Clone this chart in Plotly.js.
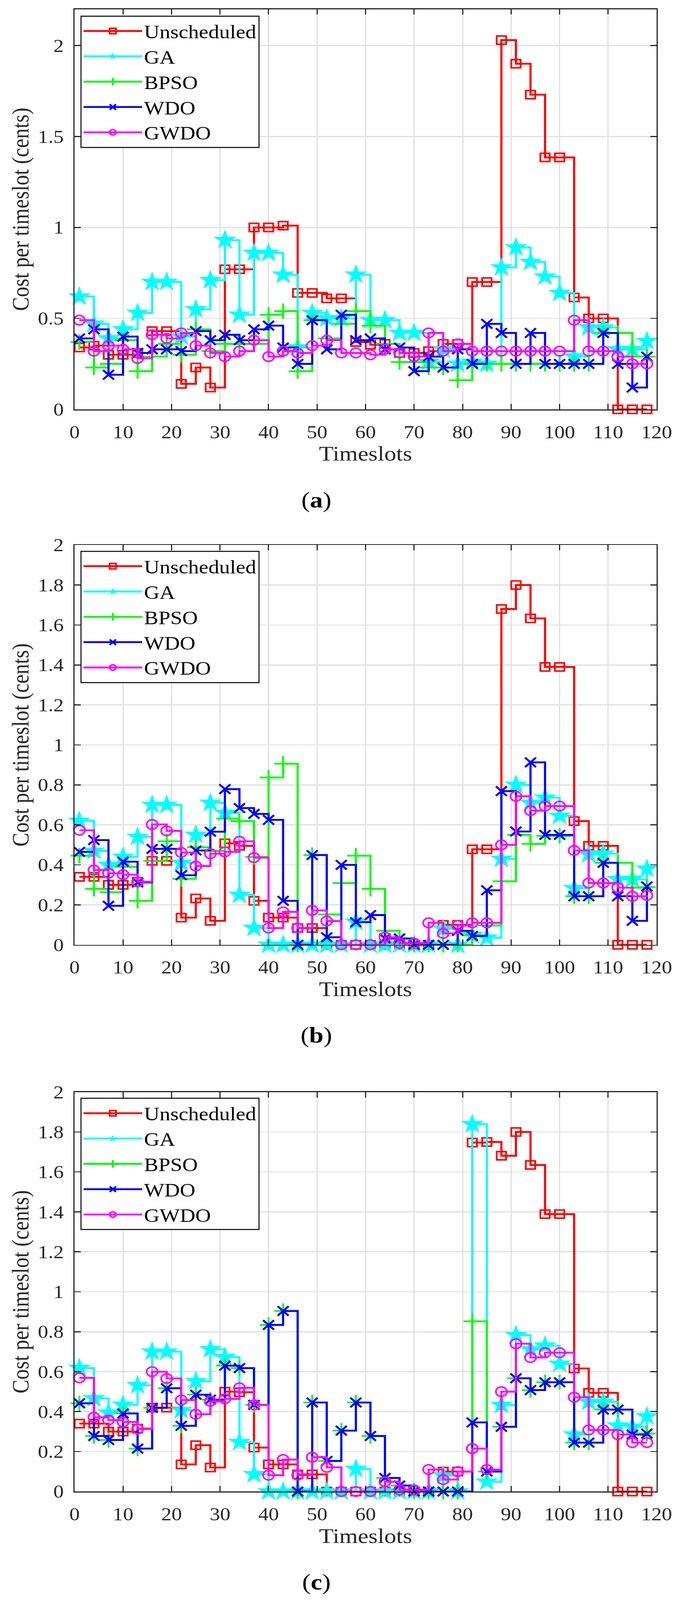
<!DOCTYPE html>
<html>
<head>
<meta charset="utf-8">
<script src="https://cdn.plot.ly/plotly-3.0.1.min.js"></script>
<style>
  html, body { margin: 0; padding: 0; background: #ffffff; overflow: hidden; }
  #frame { width: 1742px; height: 4096px; overflow: hidden; }
  #cost_plot { width: 1742px; height: 4706px; transform-origin: 0 0; }
</style>
</head>
<body>
<div id="frame"><div id="cost_plot"></div></div>
<script>
// timeslot at which each 3-slot step starts
var timeslots = [1, 4, 7, 10, 13, 16, 19, 22, 25, 28, 31, 34, 37, 40, 43, 46, 49, 52, 55, 58,
                 61, 64, 67, 70, 73, 76, 79, 82, 85, 88, 91, 94, 97, 100, 103, 106, 109, 112, 115, 118];

var names = ['Unscheduled', 'GA', 'BPSO', 'WDO', 'GWDO'];
var xTicks = [0, 10, 20, 30, 40, 50, 60, 70, 80, 90, 100, 110, 120];

// (a)
var a_unsched = [0.34, 0.35, 0.30, 0.30, 0.31, 0.43, 0.43, 0.14, 0.23, 0.12, 0.77, 0.77, 1.00, 1.00, 1.01, 0.64, 0.64, 0.61, 0.61, 0.37,
                 0.355, 0.36, 0.31, 0.31, 0.32, 0.36, 0.36, 0.70, 0.70, 2.03, 1.90, 1.73, 1.385, 1.385, 0.615, 0.50, 0.50, 0, 0, 0];
var a_ga      = [0.62, 0.47, 0.39, 0.44, 0.53, 0.70, 0.70, 0.40, 0.55, 0.71, 0.93, 0.52, 0.86, 0.86, 0.74, 0.34, 0.53, 0.50, 0.50, 0.74,
                 0.49, 0.49, 0.42, 0.42, 0.26, 0.33, 0.25, 0.26, 0.25, 0.78, 0.89, 0.81, 0.73, 0.64, 0.29, 0.45, 0.45, 0.33, 0.33, 0.375];
var a_bpso    = [0.37, 0.23, 0.25, 0.38, 0.21, 0.29, 0.36, 0.30, 0.44, 0.32, 0.36, 0.36, 0.36, 0.52, 0.54, 0.21, 0.49, 0.39, 0.47, 0.54,
                 0.46, 0.36, 0.26, 0.26, 0.23, 0.23, 0.16, 0.25, 0.25, 0.25, 0.25, 0.25, 0.25, 0.25, 0.25, 0.25, 0.42, 0.42, 0.29, 0.29];
var a_wdo     = [0.39, 0.44, 0.19, 0.40, 0.31, 0.33, 0.33, 0.32, 0.43, 0.38, 0.41, 0.38, 0.44, 0.46, 0.34, 0.25, 0.49, 0.33, 0.52, 0.38,
                 0.39, 0.33, 0.34, 0.21, 0.29, 0.23, 0.33, 0.25, 0.47, 0.42, 0.25, 0.42, 0.25, 0.25, 0.25, 0.25, 0.42, 0.25, 0.12, 0.29];
var a_gwdo    = [0.49, 0.32, 0.35, 0.33, 0.28, 0.41, 0.39, 0.42, 0.35, 0.31, 0.29, 0.32, 0.38, 0.29, 0.32, 0.31, 0.35, 0.38, 0.31, 0.31,
                 0.30, 0.33, 0.31, 0.29, 0.42, 0.32, 0.36, 0.32, 0.32, 0.32, 0.32, 0.32, 0.32, 0.32, 0.49, 0.32, 0.32, 0.29, 0.25, 0.25];

// (b)
var b_unsched = [0.34, 0.34, 0.30, 0.30, 0.315, 0.42, 0.42, 0.136, 0.232, 0.12, 0.508, 0.495, 0.22, 0.136, 0.136, 0.084, 0.084, 0, 0, 0,
                 0, 0, 0, 0, 0, 0.10, 0.10, 0.478, 0.478, 1.68, 1.80, 1.633, 1.39, 1.39, 0.619, 0.495, 0.495, 0, 0, 0];
var b_ga      = [0.62, 0.47, 0.40, 0.44, 0.54, 0.70, 0.70, 0.41, 0.55, 0.71, 0.66, 0.25, 0.084, 0, 0, 0, 0, 0, 0, 0.115,
                 0, 0, 0, 0, 0, 0.08, 0, 0.048, 0.035, 0.43, 0.80, 0.71, 0.736, 0.645, 0.283, 0.452, 0.456, 0.328, 0.328, 0.38];
var b_bpso    = [0.446, 0.28, 0.263, 0.39, 0.22, 0.42, 0.518, 0.33, 0.488, 0.47, 0.632, 0.619, 0.44, 0.837, 0.906, 0, 0.449, 0.152, 0.309, 0.446,
                 0.28, 0.07, 0.03, 0, 0, 0, 0, 0.048, 0.097, 0.318, 0.55, 0.505, 0.545, 0.545, 0.243, 0.243, 0.41, 0.41, 0.286, 0.289];
var b_wdo     = [0.465, 0.524, 0.195, 0.416, 0.312, 0.48, 0.48, 0.348, 0.472, 0.566, 0.779, 0.684, 0.655, 0.625, 0.22, 0, 0.449, 0.038, 0.40, 0.113,
                 0.149, 0.032, 0.032, 0, 0, 0, 0.07, 0.044, 0.273, 0.769, 0.567, 0.913, 0.55, 0.55, 0.243, 0.243, 0.41, 0.243, 0.12, 0.292];
var b_gwdo    = [0.573, 0.374, 0.358, 0.351, 0.315, 0.602, 0.57, 0.462, 0.394, 0.456, 0.465, 0.518, 0.436, 0.084, 0.165, 0.084, 0.172, 0.119, 0, 0,
                 0, 0.038, 0.008, 0.008, 0.11, 0.057, 0.097, 0.11, 0.11, 0.50, 0.743, 0.671, 0.694, 0.694, 0.472, 0.309, 0.309, 0.286, 0.243, 0.247];

// (c)
var c_unsched = [0.34, 0.34, 0.30, 0.30, 0.315, 0.42, 0.42, 0.136, 0.232, 0.12, 0.50, 0.497, 0.22, 0.136, 0.136, 0.086, 0.086, 0, 0, 0,
                 0, 0, 0, 0, 0, 0.10, 0.10, 1.747, 1.75, 1.681, 1.80, 1.635, 1.389, 1.389, 0.616, 0.494, 0.494, 0, 0, 0];
var c_ga      = [0.618, 0.466, 0.395, 0.434, 0.532, 0.70, 0.70, 0.407, 0.552, 0.712, 0.673, 0.247, 0.086, 0, 0, 0, 0, 0, 0, 0.113,
                 0, 0, 0, 0, 0, 0.08, 0, 1.839, 0.049, 0.433, 0.783, 0.711, 0.73, 0.639, 0.285, 0.449, 0.449, 0.33, 0.324, 0.376];
var c_bpso    = [0.442, 0.278, 0.258, 0.391, 0.215, 0.419, 0.517, 0.329, 0.485, 0.46, 0.63, 0.618, 0.434, 0.834, 0.904, 0, 0.446, 0.153, 0.305, 0.446,
                 0.278, 0.068, 0.03, 0, 0, 0, 0, 0.852, 0.10, 0.324, 0.567, 0.508, 0.547, 0.547, 0.245, 0.245, 0.41, 0.41, 0.285, 0.29];
var c_wdo     = [0.442, 0.278, 0.258, 0.391, 0.215, 0.419, 0.517, 0.329, 0.485, 0.46, 0.63, 0.618, 0.434, 0.834, 0.904, 0, 0.446, 0.153, 0.305, 0.446,
                 0.278, 0.068, 0.03, 0, 0, 0, 0, 0.346, 0.10, 0.324, 0.567, 0.508, 0.547, 0.547, 0.245, 0.245, 0.41, 0.41, 0.285, 0.29];
var c_gwdo    = [0.569, 0.372, 0.358, 0.348, 0.313, 0.60, 0.566, 0.458, 0.387, 0.452, 0.464, 0.519, 0.434, 0.082, 0.16, 0.082, 0.172, 0.121, 0, 0,
                 0, 0.049, 0.008, 0.008, 0.11, 0.06, 0.10, 0.215, 0.11, 0.50, 0.74, 0.671, 0.695, 0.695, 0.472, 0.308, 0.308, 0.285, 0.245, 0.245];

var panels = [
	[a_unsched, a_ga, a_bpso, a_wdo, a_gwdo],
	[b_unsched, b_ga, b_bpso, b_wdo, b_gwdo],
	[c_unsched, c_ga, c_bpso, c_wdo, c_gwdo]
];

var colors  = ['#ff0000', '#00ffff', '#00ff00', '#0000ff', '#ff00ff'];
var symbols = ['square-open', 'star', 'cross-thin-open', 'x-thin-open', 'circle-open'];
var msizes  = [24, 44, 32, 28, 28];
var mlines  = [4.5, 0, 5, 5.5, 4.5];

var serif = 'Liberation Serif, Times New Roman, serif';

var data = [];
for (var p = 0; p < panels.length; p++) {
	var suffix = p == 0 ? '' : String(p + 1);
	for (var s = 0; s < names.length; s++) {
		data.push({
			x: timeslots,
			y: panels[p][s],
			type: 'scatter',
			mode: 'lines+markers',
			name: names[s],
			xaxis: 'x' + suffix,
			yaxis: 'y' + suffix,
			legend: 'legend' + suffix,
			cliponaxis: false,
			line: {shape: 'hv', color: colors[s], width: 5.5},
			marker: {
				symbol: symbols[s],
				size: msizes[s],
				color: colors[s],
				line: {color: colors[s], width: mlines[s]}
			}
		});
	}
}

function xAxis(anchor) {
	return {
		anchor: anchor,
		domain: [0.1096, 0.9656],
		range: [0, 120],
		tickvals: xTicks,
		ticks: 'inside',
		ticklen: 16,
		tickwidth: 3,
		tickcolor: '#262626',
		showline: true,
		linecolor: '#262626',
		linewidth: 3,
		mirror: 'ticks',
		showgrid: true,
		gridcolor: '#dfdfdf',
		gridwidth: 3,
		zeroline: false,
		ticklabelstandoff: 18,
		tickfont: {family: serif, size: 53, color: '#262626'},
		title: {text: 'Timeslots', font: {family: serif, size: 61, color: '#262626'}, standoff: 14}
	};
}

function yAxis(anchor, domain, top, step) {
	return {
		anchor: anchor,
		domain: domain,
		range: [0, top],
		dtick: step,
		tick0: 0,
		ticks: 'inside',
		ticklen: 16,
		tickwidth: 3,
		tickcolor: '#262626',
		showline: true,
		linecolor: '#262626',
		linewidth: 3,
		mirror: 'ticks',
		showgrid: true,
		gridcolor: '#dfdfdf',
		gridwidth: 3,
		zeroline: false,
		ticklabelstandoff: 14,
		tickfont: {family: serif, size: 53, color: '#262626'},
		title: {text: 'Cost per timeslot (cents)', font: {family: serif, size: 61, color: '#262626'}, standoff: 4}
	};
}

function legendBox(y) {
	return {
		x: 0.1183,
		y: y,
		xanchor: 'left',
		yanchor: 'top',
		bgcolor: '#ffffff',
		bordercolor: '#262626',
		borderwidth: 3,
		itemwidth: 150,
		tracegroupgap: 0,
		font: {family: serif, size: 55, color: '#000000'}
	};
}

var captions = ['(<b>a</b>)', '(<b>b</b>)', '(<b>c</b>)'];
var captionY = [1 - 1470 / 4706, 1 - 3045 / 4706, 1 - 4653 / 4706];
var annotations = [];
for (var i = 0; i < captions.length; i++) {
	annotations.push({
		text: captions[i],
		xref: 'paper', yref: 'paper',
		x: 0.465, y: captionY[i],
		xanchor: 'center', yanchor: 'middle',
		showarrow: false,
		font: {family: serif, size: 66, color: '#000000'}
	});
}

var layout = {
	width: 1742,
	height: 4706,
	margin: {l: 0, r: 0, t: 0, b: 0},
	paper_bgcolor: '#ffffff',
	plot_bgcolor: '#ffffff',
	showlegend: true,
	xaxis: xAxis('y'),
	xaxis2: xAxis('y2'),
	xaxis3: xAxis('y3'),
	yaxis: yAxis('x', [0.74416, 0.99426], 2.2, 0.5),
	yaxis2: yAxis('x2', [0.40948, 0.65937], 2, 0.2),
	yaxis3: yAxis('x3', [0.06779, 0.31747], 2, 0.2),
	legend: legendBox(0.99023),
	legend2: legendBox(0.65576),
	legend3: legendBox(0.31386),
	annotations: annotations
};

var config = {responsive: false, displayModeBar: false, staticPlot: true};

// the window only shows 4096px of height, so the finished 4706px chart is squeezed to fit
Plotly.newPlot('cost_plot', data, layout, config).then(function() {
	var fit = Math.min(1, window.innerHeight / 4706);
	document.getElementById('cost_plot').style.transform = 'scale(1,' + fit + ')';
});
</script>
</body>
</html>
